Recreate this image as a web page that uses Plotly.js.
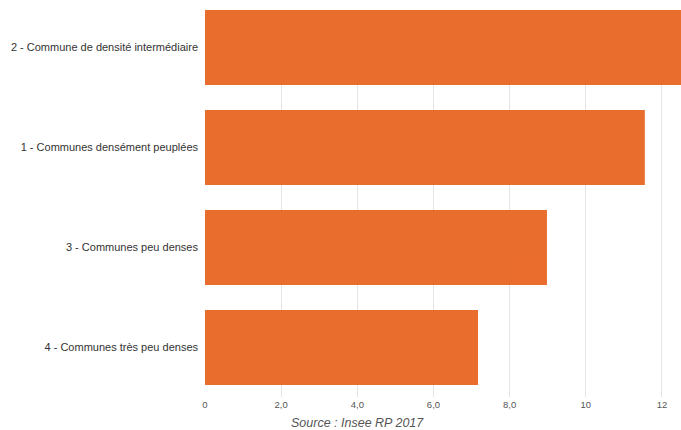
<!DOCTYPE html>
<html>
<head>
<meta charset="utf-8">
<script src="https://cdn.plot.ly/plotly-3.0.1.min.js"></script>
<style>html,body{margin:0;padding:0;background:#fff;}#chart{width:681px;height:430px;}</style>
</head>
<body>
<div id="chart"></div>
<script>
const categories = [
  "4 - Communes très peu denses",
  "3 - Communes peu denses",
  "1 - Communes densément peuplées",
  "2 - Commune de densité intermédiaire"
];
const values = [7.17, 8.98, 11.55, 12.8];
const tickVals = [0, 2, 4, 6, 8, 10, 12];
const tickText = ["0", "2,0", "4,0", "6,0", "8,0", "10", "12"];
const sourceText = "Source : Insee RP 2017";

Plotly.newPlot("chart", [{
  type: "bar",
  orientation: "h",
  y: categories,
  x: values,
  marker: {color: "#E8621E", line: {width: 0}},
  opacity: 0.93,
  width: 0.75,
  hoverinfo: "x+y"
}], {
  width: 681, height: 430,
  margin: {l: 205, r: 0, t: 10, b: 33},
  paper_bgcolor: "#fff", plot_bgcolor: "#fff",
  showlegend: false,
  font: {family: "Liberation Sans, Arial, sans-serif", size: 9, color: "#444"},
  xaxis: {
    range: [0, 12.5], tickvals: tickVals, ticktext: tickText,
    showgrid: true, gridcolor: "#e4e4e4", gridwidth: 1,
    zeroline: false, showline: false, ticks: "",
    tickfont: {size: 9.5, color: "#555"}
  },
  yaxis: {
    range: [-0.495, 3.375], showgrid: false, zeroline: false, showline: false,
    ticks: "", ticklen: 0, tickfont: {size: 11, color: "#333"},
    ticklabelstandoff: 6,
    automargin: false
  },
  annotations: [{
    text: "<i>" + sourceText + "</i>", xref: "paper", yref: "paper",
    x: 0.32, y: -0.067, xanchor: "center", yanchor: "middle", showarrow: false,
    font: {size: 12.5, color: "#555"}
  }]
}, {displayModeBar: false, staticPlot: true});
</script>
</body>
</html>
